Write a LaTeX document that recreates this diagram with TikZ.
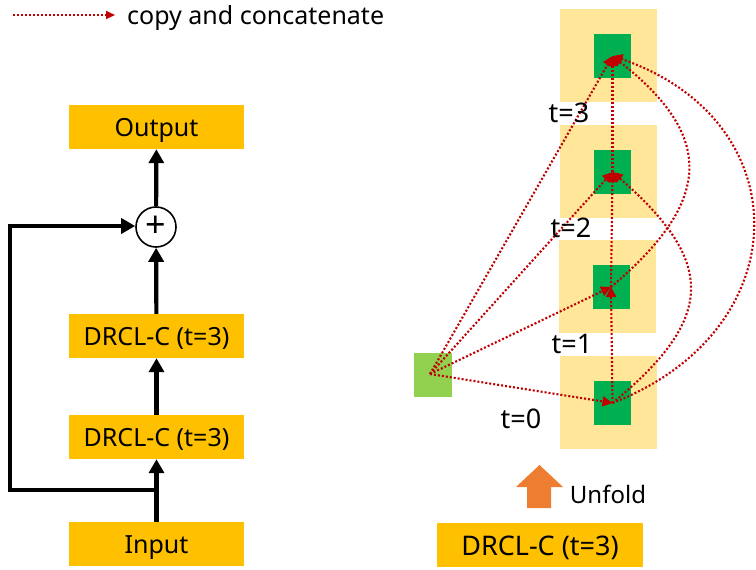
\documentclass[tikz,border=0pt]{standalone}
\usepackage{fontspec}
\setmainfont{Noto Sans}
\usetikzlibrary{arrows.meta}
\definecolor{boxor}{HTML}{FFC000}
\definecolor{lightor}{HTML}{FFE699}
\definecolor{dgreen}{HTML}{00B050}
\definecolor{lgreen}{HTML}{92D050}
\definecolor{redc}{HTML}{C00000}
\definecolor{uforange}{HTML}{ED7D31}
\begin{document}
\begin{tikzpicture}[x=1pt,y=-1pt,
  obox/.style={fill=boxor, minimum width=175pt, minimum height=44pt, inner sep=0pt, text height=19.5pt, text depth=1pt, font=\fontsize{25}{29}\selectfont},
  lbox/.style={fill=lightor, minimum width=97pt, minimum height=93pt, inner sep=0pt},
  gbox/.style={fill=dgreen, minimum width=37pt, minimum height=44pt, inner sep=0pt},
  tlab/.style={font=\fontsize{27}{32}\selectfont, inner sep=0pt},
  tharrow/.style={line width=4.2pt, line join=miter, -{Triangle[width=15pt,length=14pt]}},
  cc/.style={draw=redc, line width=2.1pt, dash pattern=on 2pt off 2pt, -{Triangle[width=10pt,length=10pt]}}]
\useasboundingbox (0,0) rectangle (756,570);
% legend
\coordinate (l1) at (13,15);
\coordinate (l2) at (115,15);
\draw[cc, -{Triangle[width=8pt,length=9pt]}] (l1) -- (l2);
\node[anchor=base west, inner sep=0pt, font=\fontsize{25}{30}\selectfont] (leg) at (127,24) {copy and concatenate};
% left column
\node[obox] (out) at (156.5,127) {Output};
\node[obox] (d2) at (156.5,336) {DRCL-C (t=3)};
\node[obox] (d1) at (156.5,437) {DRCL-C (t=3)};
\node[obox] (in) at (156.5,544) {Input};
\node[circle, draw, line width=1.6pt, minimum size=40pt, inner sep=0pt, font=\fontsize{36}{36}\selectfont] (plus) at (156,227) {+};
\draw[tharrow] (in) -- (d1);
\draw[tharrow] (d1) -- (d2);
\draw[tharrow] (d2) -- (plus);
\draw[tharrow] (plus) -- (out);
\coordinate (sk) at (157,490);
\coordinate (skc) at (10,226);
\draw[tharrow] (sk) -| (skc) -- (plus.west |- skc);
% right side
\node[lbox] (b3) at (608.5,55.5) {};
\node[lbox] (b2) at (608.5,171.5) {};
\node[lbox] (b1) at (607,286.5) {};
\node[lbox] (b0) at (608.5,402.5) {};
\node[gbox] (g3) at (612.5,56) {};
\node[gbox] (g2) at (612.5,172) {};
\node[gbox] (g1) at (611,287) {};
\node[gbox] (g0) at (612.5,403) {};
\node[fill=lgreen, minimum width=38pt, minimum height=44pt, inner sep=0pt] (src) at (433,375) {};
\coordinate (s) at (430,374);
\draw[cc] (s) -- (g3.center);
\draw[cc] (s) -- (g2.center);
\draw[cc] (s) -- (g1.center);
\draw[cc] (s) -- (g0.center);
\draw[cc] (g0.center) -- (g1.center);
\draw[cc] (g1.center) -- (g2.center);
\draw[cc] (g2.center) -- (g3.center);
\draw[cc] (g0.center) .. controls (800,330) and (800,120) .. (g3.center);
\draw[cc] (g0.center) .. controls (716,318) and (716,262) .. (g2.center);
\draw[cc] (g1.center) .. controls (714,200) and (714,136) .. (g3.center);
\node[tlab] (t3) at (569,113) {t=3};
\node[tlab] (t2) at (571,228) {t=2};
\node[tlab] (t1) at (572,344) {t=1};
\node[tlab] (t0) at (521,419) {t=0};
% unfold
\fill[uforange] (527,508) -- (527,487) -- (516,487) -- (539.5,465) -- (563,487) -- (551,487) -- (551,508) -- cycle;
\node[inner sep=0pt, font=\fontsize{24}{28}\selectfont] (unf) at (608,494) {Unfold};
\node[fill=boxor, minimum width=206pt, minimum height=44pt, inner sep=0pt, text height=21pt, text depth=1pt, font=\fontsize{27}{32}\selectfont] (dr) at (540,545) {DRCL-C (t=3)};
\end{tikzpicture}
\end{document}
